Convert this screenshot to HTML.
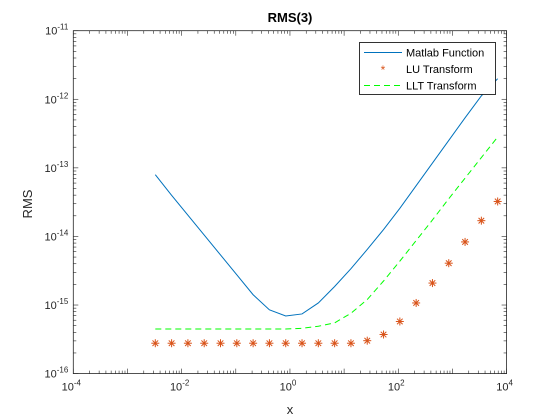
<!DOCTYPE html>
<html><head><meta charset="utf-8"><style>
body{margin:0;background:#fff}
svg{display:block;font-family:"Liberation Sans",Arial,sans-serif}
</style></head><body>
<svg id="chart" width="560" height="420" viewBox="0 0 560 420" xmlns="http://www.w3.org/2000/svg">
<rect width="560" height="420" fill="#fff"/>
<text x="290" y="22" text-anchor="middle" font-size="13" font-weight="bold" fill="#000">RMS(3)</text>
<text x="290" y="414" text-anchor="middle" font-size="13" fill="#262626">x</text>
<text transform="translate(32,204) rotate(-90)" text-anchor="middle" font-size="13" fill="#262626">RMS</text>
<g id="axes"></g>
<g id="series"></g>
<g id="legend">
<rect x="359.5" y="42.5" width="136" height="52" fill="#fff" stroke="#000" stroke-width="0.8"/>
<line x1="364" y1="52.5" x2="402" y2="52.5" stroke="#0072BD" stroke-width="1"/>
<text x="406" y="56.5" font-size="11" fill="#000">Matlab Function</text>
<text x="383" y="74" text-anchor="middle" font-size="12" fill="#D95319">*</text>
<text x="406" y="73" font-size="11" fill="#000">LU Transform</text>
<line x1="364" y1="85.5" x2="402" y2="85.5" stroke="#00FF00" stroke-width="1" stroke-dasharray="6,4"/>
<text x="406" y="89.5" font-size="11" fill="#000">LLT Transform</text>
</g>
</svg>
<script>
const xLogStart = -2.486;
const xLogStep = 0.301;
const matlabLog = [-13.10,-13.40,-13.69,-13.98,-14.27,-14.56,-14.85,-15.07,-15.16,-15.13,-14.97,-14.73,-14.47,-14.19,-13.90,-13.59,-13.26,-12.93,-12.60,-12.27,-11.95,-11.70];
const luLog = [-15.557,-15.557,-15.557,-15.557,-15.557,-15.557,-15.557,-15.557,-15.557,-15.557,-15.557,-15.557,-15.557,-15.52,-15.43,-15.24,-14.97,-14.68,-14.39,-14.08,-13.77,-13.49];
const lltLog = [-15.35,-15.35,-15.35,-15.35,-15.35,-15.35,-15.35,-15.35,-15.35,-15.34,-15.31,-15.26,-15.12,-14.92,-14.65,-14.36,-14.06,-13.76,-13.45,-13.15,-12.85,-12.55];
const xTickExp = [-4,-2,0,2,4];
const yTickExp = [-16,-15,-14,-13,-12,-11];

const L=73.3,R=506.6,T=30.7,B=373.6;
const xMin=-4,xMax=4,yMin=-16,yMax=-11;
const NS='http://www.w3.org/2000/svg';
function sx(lg){return L+(lg-xMin)/(xMax-xMin)*(R-L);}
function sy(lg){return B-(lg-yMin)/(yMax-yMin)*(B-T);}
function mk(tag,attrs,parent){const e=document.createElementNS(NS,tag);for(const k in attrs)e.setAttribute(k,attrs[k]);parent.appendChild(e);return e;}
const axes=document.getElementById('axes'), series=document.getElementById('series');

for(let d=xMin; d<=xMax; d++){
  for(let m=1;m<=9;m++){
    if(d===xMax && m>1) break;
    const lg=d+Math.log10(m), x=sx(lg), len=(m===1?5:3);
    const t1=mk('line',{x1:x,y1:B,x2:x,y2:B-len,stroke:'#262626','stroke-width':0.6},axes);
    
    
    const t2=mk('line',{x1:x,y1:T,x2:x,y2:T+len,stroke:'#262626','stroke-width':0.6},axes);
    
    
  }
}
for(let d=yMin; d<=yMax; d++){
  for(let m=1;m<=9;m++){
    if(d===yMax && m>1) break;
    const lg=d+Math.log10(m), y=sy(lg), len=(m===1?5:3);
    const t1=mk('line',{x1:L,y1:y,x2:L+len,y2:y,stroke:'#262626','stroke-width':0.6},axes);
    
    
    const t2=mk('line',{x1:R,y1:y,x2:R-len,y2:y,stroke:'#262626','stroke-width':0.6},axes);
    
    
  }
}
const box=mk('rect',{x:L,y:T,width:R-L,height:B-T,fill:'none',stroke:'#262626','stroke-width':0.8},axes);



xTickExp.forEach(e=>{
  const t=mk('text',{x:sx(e)-2,y:B+17,'text-anchor':'middle','font-size':11,fill:'#262626'},axes);
  
  
  t.textContent='10';
  const s=mk('tspan',{dy:-5,'font-size':8},t); s.textContent=String(e);
});
yTickExp.forEach(e=>{
  const t=mk('text',{x:L-5,y:sy(e)+4,'text-anchor':'end','font-size':11,fill:'#262626'},axes);
  
  
  const a=mk('tspan',{},t); a.textContent='10';
  const s=mk('tspan',{dy:-5,'font-size':8},t); s.textContent=String(e);
});

function xs(i){return sx(xLogStart+i*xLogStep);}
const mp=mk('polyline',{points:matlabLog.map((v,i)=>xs(i)+','+sy(v)).join(' '),fill:'none',stroke:'#0072BD','stroke-width':1},series);


const lp=mk('polyline',{points:lltLog.map((v,i)=>xs(i)+','+sy(v)).join(' '),fill:'none',stroke:'#00FF00','stroke-width':1,'stroke-dasharray':'6,4'},series);


luLog.forEach((v,i)=>{
  const cx=xs(i), cy=sy(v), r=4;
  const g=mk('g',{stroke:'#D95319','stroke-width':1},series);
  
  
  mk('line',{x1:cx-r,y1:cy,x2:cx+r,y2:cy},g);
  mk('line',{x1:cx,y1:cy-r,x2:cx,y2:cy+r},g);
  mk('line',{x1:cx-2.8,y1:cy-2.8,x2:cx+2.8,y2:cy+2.8},g);
  mk('line',{x1:cx-2.8,y1:cy+2.8,x2:cx+2.8,y2:cy-2.8},g);
});
</script>
</body></html>
